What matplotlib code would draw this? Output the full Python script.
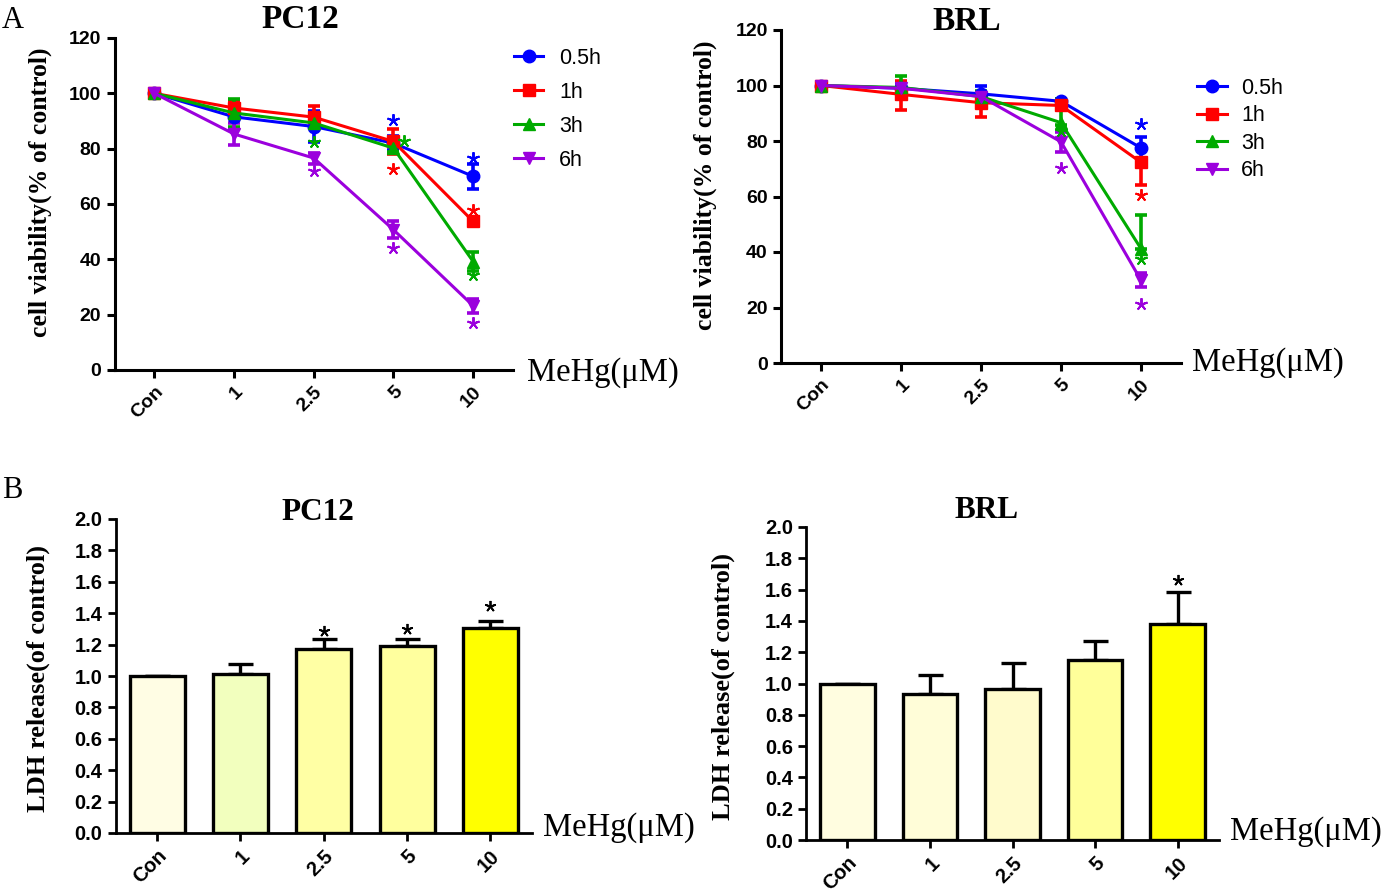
import matplotlib
matplotlib.use("Agg")
import matplotlib.pyplot as plt
import numpy as np

plt.rcParams['font.family'] = ['Liberation Sans', 'DejaVu Sans']
plt.rcParams['font.weight'] = 'bold'

W, H = 1381, 892
DPI = 100

# ---------------- data ----------------
doses = ['Con', '1', '2.5', '5', '10']
times = ['0.5h', '1h', '3h', '6h']
line_colors = ['#0000FF', '#FF0000', '#00AA00', '#9B00DD']
line_markers = ['o', 's', '^', 'v']

# PC12 cell viability (% of control)
pc12_05h = [100, 91.5, 88.0, 82.0, 70.0]
pc12_1h = [100, 94.7, 91.4, 82.6, 53.7]
pc12_3h = [100, 92.9, 89.3, 80.2, 39.2]
pc12_6h = [100, 85.3, 76.6, 50.7, 23.2]
pc12_05h_err = [0.5, 4.0, 5.5, 2.5, 4.5]
pc12_1h_err = [0.5, 2.5, 4.0, 4.5, 0.5]
pc12_3h_err = [0.5, 5.0, 1.5, 1.5, 3.5]
pc12_6h_err = [0.5, 4.0, 2.0, 3.0, 2.5]
# significance stars (dose index, y)
pc12_stars_05h = ([3, 4], [90.5, 76.6])
pc12_stars_1h = ([3, 4], [72.6, 57.7])
pc12_stars_3h = ([2, 3.13, 4], [82.3, 82.8, 34.4])
pc12_stars_6h = ([2, 3, 4], [72.1, 44.0, 16.9])

# BRL cell viability (% of control)
brl_05h = [100, 99.0, 97.0, 94.3, 77.5]
brl_1h = [100, 96.8, 93.8, 92.8, 72.3]
brl_3h = [100, 99.3, 96.0, 86.6, 41.2]
brl_6h = [100, 99.0, 96.0, 79.7, 29.8]
brl_05h_lo = [0.5, 2.0, 3.0, 1.0, 4.0]
brl_05h_hi = [0.5, 2.0, 3.0, 1.0, 4.0]
brl_1h_lo = [0.5, 5.5, 5.0, 1.0, 8.3]
brl_1h_hi = [0.5, 5.0, 4.0, 1.0, 0.0]
brl_3h_lo = [0.5, 4.0, 2.0, 1.0, 0.0]
brl_3h_hi = [0.5, 4.0, 2.0, 8.5, 12.0]
brl_6h_lo = [0.5, 1.0, 1.0, 3.5, 2.5]
brl_6h_hi = [0.5, 1.0, 1.0, 3.5, 2.5]
brl_stars_05h = ([4], [86.0])
brl_stars_1h = ([4], [60.5])
brl_stars_3h = ([3, 4], [83.6, 37.3])
brl_stars_6h = ([3, 4], [70.3, 21.2])

# LDH release (of control)
ldh_pc12 = [1.0, 1.015, 1.174, 1.189, 1.308]
ldh_pc12_err = [0.0, 0.06, 0.06, 0.045, 0.045]
ldh_pc12_stars = ([2, 3, 4], [1.285, 1.30, 1.444])
ldh_brl = [1.0, 0.936, 0.968, 1.153, 1.377]
ldh_brl_err = [0.0, 0.117, 0.16, 0.119, 0.208]
ldh_brl_stars = ([4], [1.66])
ldh_pc12_colors = ['#FFFDE4', '#F2FFBE', '#FFFFA4', '#FFFF9E', '#FFFF00']
ldh_brl_colors = ['#FFFDE0', '#FFFDD8', '#FFFBCC', '#FFFF9A', '#FFFF00']

# ---------------- helpers ----------------
fig = plt.figure(figsize=(W / DPI, H / DPI), dpi=DPI)
fig.patch.set_facecolor('white')

SERIF = ['Liberation Serif', 'DejaVu Serif']


def add_ax(left, right, top, bottom):
    return fig.add_axes([left / W, 1 - bottom / H, (right - left) / W, (bottom - top) / H])


def ftext(x, y, s, **kw):
    fig.text(x / W, 1 - y / H, s, **kw)


def style_ax(ax, lw=2.2, tick_size=14.0):
    for sp in ['top', 'right']:
        ax.spines[sp].set_visible(False)
    for sp in ['left', 'bottom']:
        ax.spines[sp].set_linewidth(lw)
    ax.tick_params(axis='both', direction='out', width=lw, length=6, labelsize=tick_size)
    ax.set_xlim(-0.5, 4.5)
    x = np.arange(len(doses))
    ax.set_xticks(x)
    ax.set_xticklabels(doses, rotation=45, ha='right', rotation_mode='anchor',
                       fontweight='bold', fontsize=tick_size)


def line_panel(ax, series, lows, highs, stars):
    x = np.arange(len(doses))
    handles = []
    for vals, lo, hi, col, mk, lab, st in zip(series, lows, highs, line_colors,
                                               line_markers, times, stars):
        ax.errorbar(x, vals, yerr=[lo, hi], fmt='none', ecolor=col, elinewidth=2.6,
                    capsize=4.5, capthick=2.6, zorder=2)
        h, = ax.plot(x, vals, color=col, marker=mk, markersize=9, lw=2.2,
                     label=lab, zorder=3)
        handles.append(h)
        ax.plot(st[0], st[1], ls='none', marker=(5, 2, 0), markersize=9,
                mew=1.4, color=col, zorder=4)
    ax.set_ylim(0, 120)
    ax.set_yticks(np.arange(0, 121, 20))
    style_ax(ax, tick_size=14.0)
    return handles


def bar_panel(ax, vals, err, colors, stars):
    x = np.arange(len(doses))
    ax.bar(x, vals, width=0.66, color=colors, edgecolor='black', linewidth=2.4, zorder=2)
    ax.errorbar(x, vals, yerr=[np.zeros(len(err)), err], fmt='none', ecolor='black',
                elinewidth=2.4, capsize=9, capthick=2.4, zorder=1)
    ax.plot(stars[0], stars[1], ls='none', marker=(5, 2, 0), markersize=8,
            mew=1.3, color='black', zorder=4)
    ax.set_ylim(0, 2.0)
    ax.set_yticks(np.arange(0, 2.01, 0.2))
    ax.set_yticklabels(['%.1f' % v for v in np.arange(0, 2.01, 0.2)])
    style_ax(ax, lw=2.0, tick_size=14.5)


leg_kw = dict(bbox_transform=fig.transFigure, frameon=False,
              prop={'size': 15.5, 'weight': 'normal'},
              borderpad=0, borderaxespad=0, loc='upper left')

# ---------------- panel A: PC12 ----------------
ax1 = add_ax(114.5, 513, 38, 370)
h1 = line_panel(ax1, [pc12_05h, pc12_1h, pc12_3h, pc12_6h],
                [pc12_05h_err, pc12_1h_err, pc12_3h_err, pc12_6h_err],
                [pc12_05h_err, pc12_1h_err, pc12_3h_err, pc12_6h_err],
                [pc12_stars_05h, pc12_stars_1h, pc12_stars_3h, pc12_stars_6h])
ax1.legend(handles=h1, bbox_to_anchor=(514 / W, 1 - 48 / H),
           handlelength=1.35, handletextpad=0.75, labelspacing=0.6, **leg_kw)

# ---------------- panel A: BRL ----------------
ax2 = add_ax(781, 1181, 30, 363)
h2 = line_panel(ax2, [brl_05h, brl_1h, brl_3h, brl_6h],
                [brl_05h_lo, brl_1h_lo, brl_3h_lo, brl_6h_lo],
                [brl_05h_hi, brl_1h_hi, brl_3h_hi, brl_6h_hi],
                [brl_stars_05h, brl_stars_1h, brl_stars_3h, brl_stars_6h])
ax2.legend(handles=h2, bbox_to_anchor=(1197 / W, 1 - 78 / H),
           handlelength=1.4, handletextpad=0.65, labelspacing=0.3, **leg_kw)

# ---------------- panel B ----------------
ax3 = add_ax(115.5, 532, 519, 833)
bar_panel(ax3, ldh_pc12, ldh_pc12_err, ldh_pc12_colors, ldh_pc12_stars)
ax4 = add_ax(806, 1219, 527, 840)
bar_panel(ax4, ldh_brl, ldh_brl_err, ldh_brl_colors, ldh_brl_stars)

# ---------------- texts ----------------
ftext(300, 20, 'PC12', family=SERIF, fontweight='bold', fontsize=24, ha='center', va='center')
ftext(967, 21, 'BRL', family=SERIF, fontweight='bold', fontsize=24, ha='center', va='center')
ftext(318, 512, 'PC12', family=SERIF, fontweight='bold', fontsize=22.5, ha='center', va='center')
ftext(987, 510, 'BRL', family=SERIF, fontweight='bold', fontsize=22.5, ha='center', va='center')

ftext(40, 192, 'cell viability(% of control)', family=SERIF, fontweight='bold',
      fontsize=18.5, rotation=90, ha='center', va='center')
ftext(705, 185, 'cell viability(% of control)', family=SERIF, fontweight='bold',
      fontsize=18.5, rotation=90, ha='center', va='center')
ftext(38, 679, 'LDH release(of control)', family=SERIF, fontweight='bold',
      fontsize=19, rotation=90, ha='center', va='center')
ftext(723, 686, 'LDH release(of control)', family=SERIF, fontweight='bold',
      fontsize=19, rotation=90, ha='center', va='center')

for (xx, yy) in [(527, 373), (1192, 363), (543, 828), (1230, 832)]:
    ftext(xx, yy, 'MeHg(\u03bcM)', family=SERIF, fontweight='normal', fontsize=23.5,
          ha='left', va='center')

ftext(2, 20, 'A', family=SERIF, fontweight='normal', fontsize=22, ha='left', va='center')
ftext(2, 490, 'B', family=SERIF, fontweight='normal', fontsize=22, ha='left', va='center')

fig.savefig('out.png', dpi=DPI, facecolor='white')
